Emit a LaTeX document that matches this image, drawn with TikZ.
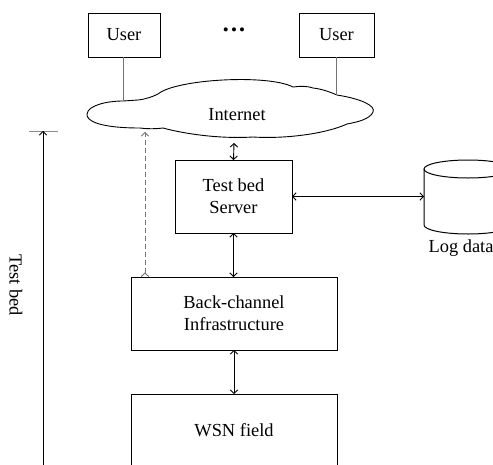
\documentclass[tikz,border=0pt]{standalone}
\usepackage{fontspec}
\setmainfont{Liberation Serif}
\usetikzlibrary{arrows.meta}
\definecolor{linegray}{gray}{0.45}
\definecolor{tickgray}{gray}{0.55}
\begin{document}
\begin{tikzpicture}[x=1pt,y=-1pt,
  every node/.style={font=\fontsize{18.4}{21.7}\selectfont, inner sep=0pt, outer sep=0pt},
  box/.style={draw, line width=1pt, align=center, anchor=north west},
  link/.style={line width=0.9pt, {Straight Barb[length=3.5pt,width=7.5pt]}-{Straight Barb[length=3.5pt,width=7.5pt]}},
  feedback/.style={line width=0.9pt, draw=linegray, dash pattern=on 5pt off 3pt,
    {Straight Barb[length=3.5pt,width=7.5pt,reversed]}-{Straight Barb[length=3.5pt,width=7.5pt]}},
  userlink/.style={line width=0.9pt, draw=linegray},
  cloudline/.style={line width=0.9pt}]
\useasboundingbox (0,0) rectangle (493,464);
\clip (0,0) rectangle (493,464);

% users
\node[box, minimum width=72, minimum height=44] (u1) at (88,13) {User};
\node[box, minimum width=75, minimum height=44] (u2) at (299,13) {User};
\node[font=\fontsize{17}{17}\selectfont] (dots) at (234,32)
  {\textbullet\hspace{2.2pt}\textbullet\hspace{2.2pt}\textbullet};

% internet cloud, built from lobes meeting in shallow cusps
\draw[cloudline]
  (87,114) .. controls (88,105) and (108,101) .. (123,101)
  -- (138,100) .. controls (146,99) and (152,97) .. (158,94)
  .. controls (176,79) and (268,74) .. (293,87)
  .. controls (300,86) and (308,86) .. (313,88)
  .. controls (322,89) and (330,92) .. (337,95)
  .. controls (362,99) and (376,106) .. (373,112)
  .. controls (370,119) and (358,122) .. (347,124)
  .. controls (325,134) and (285,139) .. (253,137)
  .. controls (220,139) and (185,134) .. (163,128)
  .. controls (155,129) and (148,129) .. (140,128)
  .. controls (100,128) and (86,121) .. (87,114) -- cycle;
\node (inet) at (237,115) {Internet};
\coordinate (c1) at (123,101);
\coordinate (c2) at (336,95);
\coordinate (cb) at (234,143);
\coordinate (cd) at (145,132);

\draw[userlink] (u1.south -| c1) -- (c1);
\draw[userlink] (u2.south -| c2) -- (c2);

% test bed parts
\node[box, minimum width=117, minimum height=73] (srv) at (175,160) {Test bed\\Server};
\node[box, minimum width=206, minimum height=73] (bc) at (131,277) {Back-channel\\Infrastructure};
\node[box, minimum width=206, minimum height=73] (wsn) at (131,394) {WSN field};

% log data store
\node[minimum width=88, minimum height=56] (logdb) at (468,197) {};
\draw[line width=1pt] (468,169) ellipse [x radius=44, y radius=9];
\draw[line width=1pt] (424,169) -- (424,225) arc[start angle=180, end angle=0, x radius=44, y radius=9] -- (512,169);
\node (loglbl) at (461,248) {Log data};

% connectors
\draw[link] (cb) -- (srv.north);
\draw[link] (srv.east) -- (srv.east -| logdb.west);
\draw[link] (srv.south) -- (srv.south |- bc.north);
\draw[link] (bc.south) -- (wsn.north);
\draw[feedback] (bc.north west -| cd) -- (cd);

% test bed extent
\coordinate (tbtop) at (43,131);
\coordinate (tbbot) at (43,470);
\draw[line width=1pt, draw=tickgray] (29,131) -- (58,131);
\draw[line width=0.9pt, {Straight Barb[length=3.5pt,width=7.5pt]}-{Straight Barb[length=3.5pt,width=7.5pt]}] (tbbot) -- (tbtop);
\node[rotate=-90] (tblbl) at (16,285) {Test bed};
\end{tikzpicture}
\end{document}
